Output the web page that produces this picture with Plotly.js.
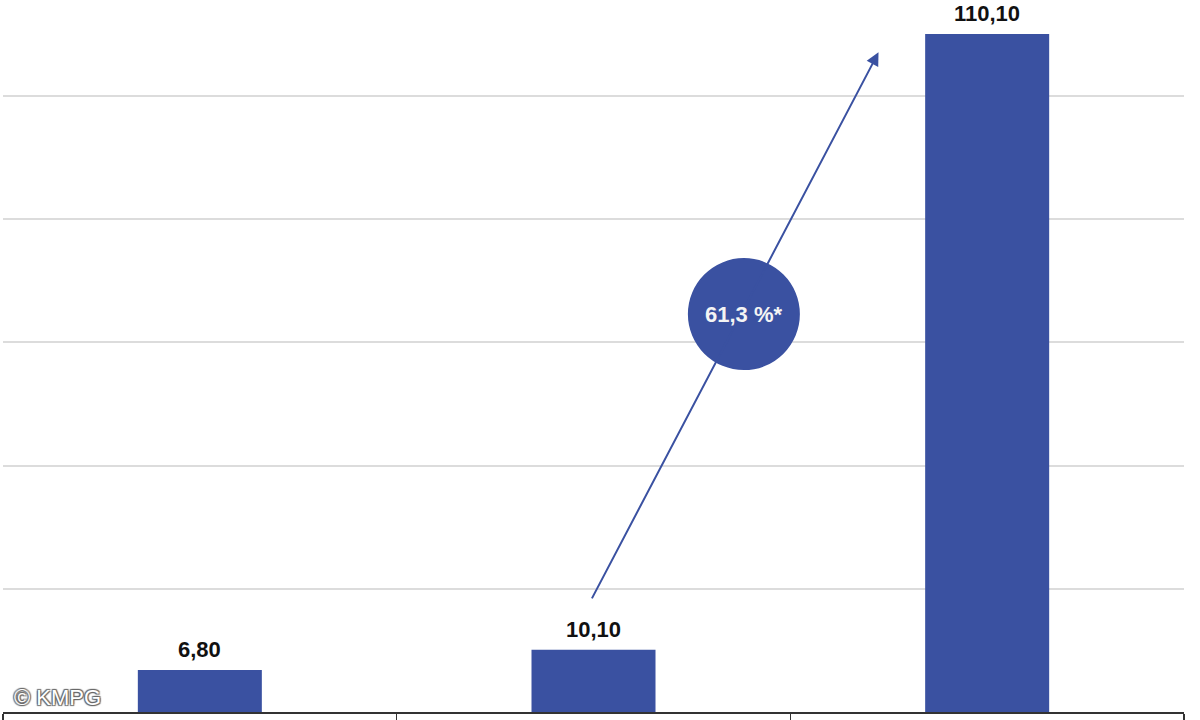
<!DOCTYPE html>
<html>
<head>
<meta charset="utf-8">
<script src="https://cdn.plot.ly/plotly-3.0.1.min.js"></script>
<style>
  html, body { margin: 0; padding: 0; background: #fff; }
  #chart { width: 1200px; height: 720px; }
</style>
</head>
<body>
<div id="chart"></div>
<script>
const categories = [0, 1, 2];
const values = [6.80, 10.10, 110.10];
const growthLabel = "61,3 %*";
const creditLabel = "© KMPG";

const barBlue = "#3a51a1";

const data = [{
    x: categories,
    y: values,
    type: "bar",
    marker: { color: barBlue },
    width: 0.315,
    hoverinfo: "skip"
}];

// value labels above each bar
const valueLabels = categories.map((c, i) => ({
    x: c,
    y: values[i],
    xref: "x",
    yref: "y",
    text: `<b>${values[i].toFixed(2).replace(".", ",")}</b>`,
    showarrow: false,
    yanchor: "bottom",
    yshift: 6,
    font: { family: "Liberation Sans, Arial, sans-serif", size: 22, color: "#111" }
}));

const layout = {
    width: 1200,
    height: 720,
    margin: { l: 3, r: 16, t: 0, b: 8 },
    paper_bgcolor: "#fff",
    plot_bgcolor: "#fff",
    showlegend: false,
    xaxis: {
        range: [-0.5, 2.5],
        tickvals: [-0.5, 0.5, 1.5, 2.5],
        showticklabels: false,
        ticks: "outside",
        ticklen: 10,
        tickwidth: 1.5,
        tickcolor: "#333",
        showline: true,
        linecolor: "#333",
        linewidth: 1.5,
        showgrid: false,
        zeroline: false,
        fixedrange: true
    },
    yaxis: {
        range: [0, 115.6],
        tickvals: [20, 40, 60, 80, 100],
        showticklabels: false,
        showgrid: true,
        gridcolor: "#dcdcdc",
        gridwidth: 2,
        zeroline: false,
        showline: false,
        fixedrange: true
    },
    shapes: [{
        type: "circle",
        xref: "x",
        yref: "y",
        xsizemode: "pixel",
        ysizemode: "pixel",
        xanchor: 1.382,
        yanchor: 64.6,
        x0: -56, x1: 56,
        y0: -56, y1: 56,
        fillcolor: barBlue,
        line: { width: 0 },
        layer: "above"
    }],
    annotations: valueLabels.concat([
        {
            // growth arrow from the middle bar to the top bar
            x: 1.724, y: 107.1,
            ax: 0.994, ay: 18.2,
            xref: "x", yref: "y",
            axref: "x", ayref: "y",
            text: "",
            showarrow: true,
            arrowhead: 2,
            arrowsize: 1.3,
            arrowwidth: 2,
            arrowcolor: barBlue
        },
        {
            x: 1.382, y: 64.6,
            xref: "x", yref: "y",
            text: `<b>${growthLabel}</b>`,
            showarrow: false,
            font: { family: "Liberation Sans, Arial, sans-serif", size: 22, color: "#f4f4f4" }
        },
        {
            x: 0.008, y: 0.021,
            xref: "paper", yref: "paper",
            xanchor: "left", yanchor: "middle",
            text: creditLabel,
            showarrow: false,
            font: {
                family: "Liberation Sans, Arial, sans-serif",
                size: 22,
                color: "#fff",
                shadow: "1px 1px 1px #666, -1px -1px 1px #666, 1px -1px 1px #666, -1px 1px 1px #666"
            }
        }
    ])
};

Plotly.newPlot("chart", data, layout, { staticPlot: true, displayModeBar: false });
</script>
</body>
</html>
